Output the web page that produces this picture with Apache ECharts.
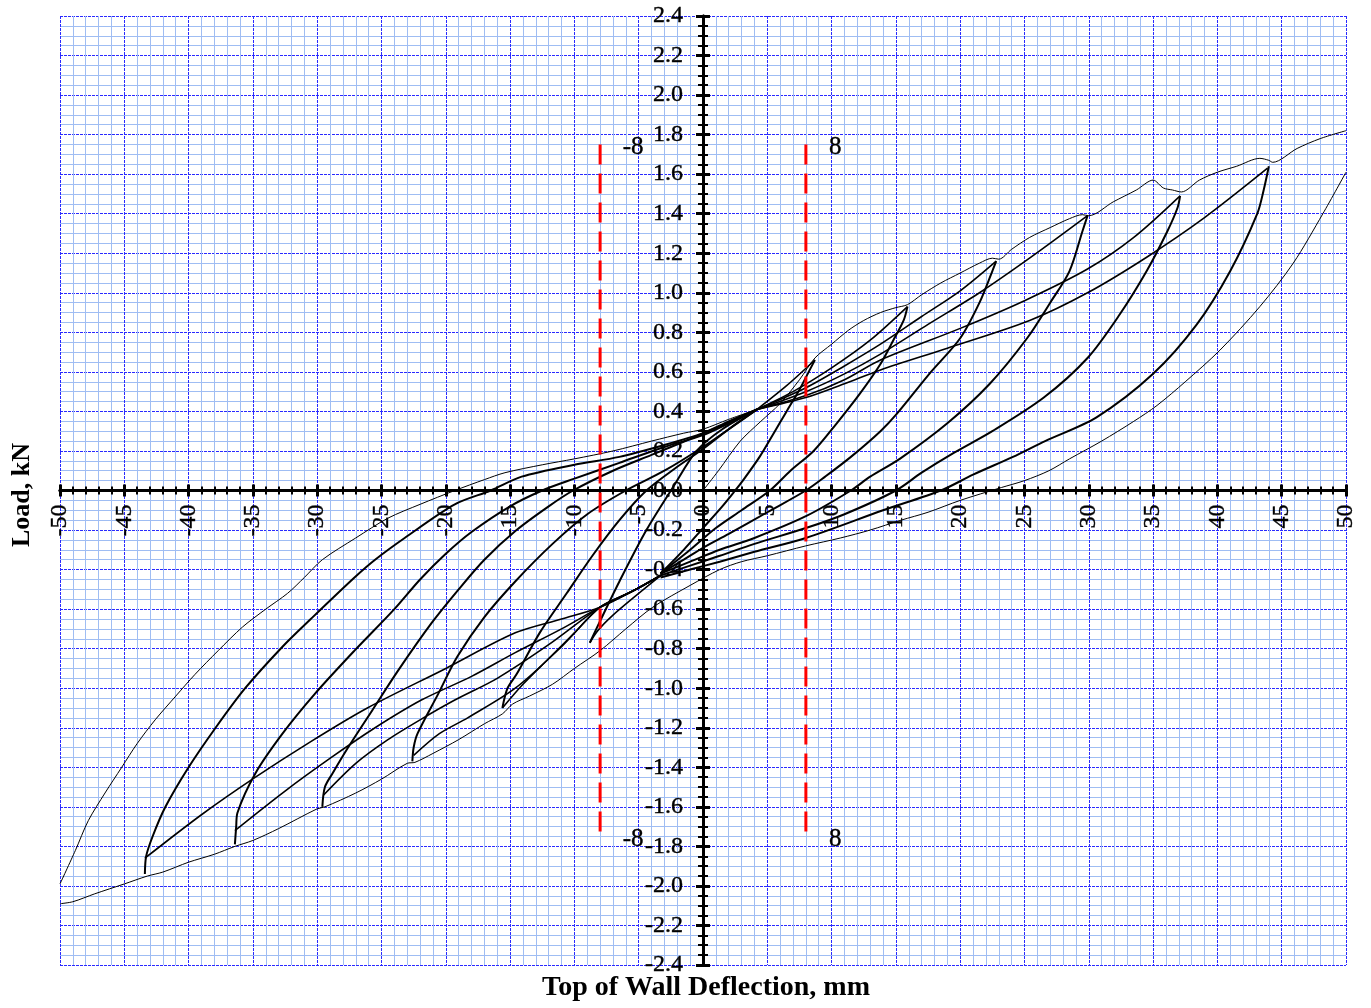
<!DOCTYPE html>
<html>
<head>
<meta charset="utf-8">
<title>Load vs Top of Wall Deflection</title>
<script src="https://cdn.jsdelivr.net/npm/echarts@6/dist/echarts.min.js"></script>
<style>
html,body{margin:0;padding:0;background:#fff;}
#main{width:1371px;height:1008px;}
</style>
</head>
<body>
<div id="main"></div>
<script>
// axis ranges [min, max, step]
var xRange = [-50, 50, 5];
var yRange = [-2.4, 2.4, 0.2];

// tick labels, drawn next to the axis lines that cross at zero
var xTickLabels = [-50, -45, -40, -35, -30, -25, -20, -15, -10, -5, 0, 5, 10, 15, 20, 25, 30, 35, 40, 45, 50];
var yTickLabels = ['-2.4', '-2.2', '-2.0', '-1.8', '-1.6', '-1.4', '-1.2', '-1.0', '-0.8', '-0.6', '-0.4', '-0.2', '0.0',
  '0.2', '0.4', '0.6', '0.8', '1.0', '1.2', '1.4', '1.6', '1.8', '2.0', '2.2', '2.4'];

// red guide lines at +-8 mm and their labels
var guideX = [-8, 8];
var guideY = [1.75, -1.76];
var guideLabels = ['-8', '8', '-8', '8'];
var guideLabelPos = [[-6.25, 1.735], [9.8, 1.735], [-6.25, -1.765], [9.8, -1.765]];

// virgin curve + upper envelope (positive side, single thin line)
var envUpper = [[0,0],[1.2,0.1],[2.9,0.25],[4.5,0.35],[6,0.44],[7.5,0.56],[8.7,0.67],
  [10,0.74],[11.3,0.81],[12.5,0.86],[13.8,0.9],[15,0.925],[15.9,0.94],
  [17,0.99],[18.5,1.05],[20,1.1],[21.5,1.15],[22.5,1.175],[23,1.17],
  [24,1.22],[25.4,1.28],[27,1.33],[28.5,1.375],[29.5,1.395],[30,1.39],
  [31.9,1.46],[33.7,1.52],[35,1.57],[35.8,1.53],[36.5,1.52],[37.2,1.51],
  [38.6,1.57],[40,1.61],[41.5,1.64],[43.3,1.68],[44,1.67],
  [44.3,1.66],[46.2,1.73],[48,1.78],[50,1.82]];

// last unloading from +50 and lower envelope down to -50
var envLower = [[50,1.61],[48.2,1.4],[45.9,1.15],[43.3,0.93],[40.2,0.71],[37.5,0.55],[35.3,0.43],
  [33.5,0.35],[31,0.25],[28.5,0.16],[26.9,0.1],[25,0.05],[23.2,0.015],[20,-0.05],[17.5,-0.11],
  [15.4,-0.15],[13,-0.2],[10.7,-0.24],[8,-0.28],[5,-0.33],[3,-0.36],[1.3,-0.4],[-1,-0.48],
  [-3.9,-0.59],[-6,-0.7],[-8,-0.81],[-10,-0.9],[-11.7,-0.98],[-13.5,-1.04],[-14.8,-1.08],
  [-15.6,-1.13],[-17,-1.18],[-19,-1.26],[-21,-1.33],[-22.4,-1.375],[-23,-1.38],[-25,-1.46],
  [-27,-1.53],[-29.4,-1.6],[-30,-1.61],[-33,-1.71],[-35,-1.77],[-36.4,-1.8],[-38,-1.84],
  [-40,-1.88],[-42,-1.93],[-43.2,-1.95],[-45,-1.99],[-47.3,-2.04],[-49,-2.08],[-50,-2.09]];

// last unloading from -50
var finalLeft = [[-50,-1.99],[-48.8,-1.82],[-47.8,-1.67],[-46.5,-1.53],[-45.2,-1.4],[-44,-1.28],
  [-42.6,-1.16],[-41,-1.04],[-39.5,-0.93],[-37.7,-0.81],[-35.8,-0.69],[-34,-0.6],[-32.3,-0.52],
  [-31,-0.44],[-29.6,-0.35],[-27,-0.24],[-24.5,-0.14],[-22,-0.07],[-19.3,0],[-17,0.055],
  [-15.4,0.09],[-12.5,0.13],[-10,0.16],[-7,0.2],[-4,0.25],[-1.5,0.29],[0,0.31],[2,0.36],[4.2,0.41]];

// unloading from positive peaks
var u8 = [[8.7,0.66],[8.3,0.61],[7.5,0.51],[6.5,0.4],[5.5,0.29],[4.4,0.17],[3.1,0.05],[2.5,0],
  [1.5,-0.08],[0,-0.19],[-1.5,-0.3],[-3.3,-0.42]];
var u16 = [[15.9,0.93],[15.6,0.86],[14.8,0.76],[13.8,0.64],[12.2,0.49],[10.4,0.34],[8.6,0.2],
  [6.8,0.1],[5.2,0],[3,-0.1],[1,-0.19],[-1,-0.3],[-3.3,-0.42]];
var u22 = [[22.8,1.16],[22.5,1.11],[21.5,0.95],[20,0.77],[17.6,0.59],[15.1,0.39],[13.8,0.3],
  [11.5,0.17],[9.5,0.07],[8,0],[5,-0.11],[2,-0.22],[0,-0.29],[-1.5,-0.35],[-3.3,-0.42]];
var u30 = [[29.9,1.39],[29.5,1.31],[28.5,1.11],[27,0.95],[25.2,0.77],[22.3,0.54],[19,0.34],
  [15.3,0.16],[13,0.07],[11.5,0],[8,-0.13],[4,-0.24],[1.3,-0.3],[-1,-0.36],[-3.3,-0.42]];
var u37 = [[37.1,1.49],[36.9,1.43],[36.1,1.31],[34.5,1.11],[32.4,0.89],[29.9,0.67],[26.5,0.47],
  [22.5,0.3],[19.5,0.19],[17,0.09],[15,0],[11,-0.12],[8,-0.19],[4,-0.27],[1.3,-0.33],[-1,-0.38],[-3.3,-0.43]];
var u44 = [[44,1.64],[43.6,1.52],[43.1,1.4],[41,1.11],[38.4,0.84],[35,0.59],[30.6,0.37],
  [26.6,0.25],[24.1,0.17],[21,0.08],[18.5,0],[14,-0.1],[8,-0.24],[4,-0.31],[1.3,-0.36],[-1,-0.4],[-3.3,-0.44]];

// reloading towards negative peaks
var rn8 = [[-3.3,-0.43],[-5,-0.52],[-7,-0.63],[-8.2,-0.71],[-8.8,-0.77]];
var rn15 = [[-3.3,-0.43],[-5.5,-0.51],[-8,-0.59],[-10,-0.72],[-12,-0.85],[-14,-0.98],[-15.6,-1.1]];
var rn22 = [[-3.3,-0.43],[-5.5,-0.51],[-8,-0.59],[-11,-0.79],[-14.6,-1],[-18.3,-1.15],[-20.5,-1.23],[-22.5,-1.34]];
var rn30 = [[-3.3,-0.43],[-5.5,-0.51],[-8,-0.59],[-12,-0.78],[-16,-0.95],[-19.3,-1.06],[-22,-1.16],
  [-24.5,-1.26],[-27,-1.38],[-29.5,-1.54]];
var rn36 = [[-3.3,-0.43],[-5.5,-0.51],[-8,-0.59],[-11,-0.7],[-14.6,-0.82],[-18,-0.94],[-21.9,-1.06],
  [-25.5,-1.2],[-28.9,-1.35],[-32.5,-1.52],[-36.4,-1.72]];
var rn43 = [[-3.3,-0.43],[-5.5,-0.51],[-8,-0.59],[-11,-0.65],[-14.6,-0.72],[-20,-0.9],[-26.1,-1.1],
  [-30.5,-1.27],[-34.8,-1.45],[-39,-1.64],[-43.4,-1.86]];

// unloading from negative peaks
var vn8 = [[-8.8,-0.77],[-8,-0.66],[-6.5,-0.46],[-4.4,-0.2],[-2.3,0.02],[-0.5,0.2],[1.5,0.31],[4.2,0.41]];
var vn15 = [[-15.6,-1.1],[-15.2,-1],[-14.5,-0.93],[-12.7,-0.72],[-10.6,-0.52],[-8.6,-0.33],[-6.5,-0.15],
  [-4.4,0],[-2,0.12],[0,0.21],[2,0.31],[4.2,0.41]];
var vn22 = [[-22.6,-1.37],[-22.5,-1.3],[-22.2,-1.23],[-20.6,-1.03],[-19.1,-0.84],[-17,-0.64],[-14.6,-0.46],
  [-11.7,-0.27],[-9,-0.12],[-6,0],[-3,0.1],[0,0.22],[2,0.31],[4.2,0.41]];
var vn30 = [[-29.6,-1.6],[-29.4,-1.5],[-28.8,-1.43],[-27.6,-1.3],[-25.7,-1.11],[-23.7,-0.91],[-21.1,-0.67],
  [-19,-0.5],[-17,-0.35],[-14.5,-0.2],[-12,-0.08],[-10.1,0],[-7,0.1],[-4,0.18],[-1,0.26],[1.5,0.33],[4.2,0.41]];
var vn36 = [[-36.4,-1.79],[-36.3,-1.7],[-36.2,-1.63],[-34.8,-1.43],[-32.7,-1.23],[-30.2,-1.03],[-27.1,-0.81],
  [-24,-0.6],[-22,-0.45],[-20,-0.32],[-18,-0.21],[-15,-0.08],[-12.5,0],[-10,0.06],[-6.5,0.14],[-3,0.22],
  [0,0.28],[2,0.34],[4.2,0.41]];
var vn43 = [[-43.4,-1.94],[-43.3,-1.85],[-42.8,-1.75],[-41.8,-1.6],[-40,-1.4],[-37.9,-1.2],[-35.6,-1],
  [-32.7,-0.79],[-30.5,-0.65],[-27.1,-0.44],[-25.5,-0.35],[-23.2,-0.24],[-19.3,-0.07],[-16.5,0],
  [-14.1,0.07],[-10,0.13],[-6.5,0.17],[-3,0.23],[0,0.29],[2,0.35],[4.2,0.41]];

// reloading towards positive peaks
var rp8 = [[4.2,0.41],[6.5,0.53],[8.7,0.66]];
var rp16 = [[4.2,0.41],[7,0.5],[10,0.62],[13,0.76],[15.9,0.93]];
var rp22 = [[4.2,0.41],[8,0.52],[11,0.63],[13.8,0.74],[17,0.88],[20,1.01],[22.8,1.16]];
var rp30 = [[4.2,0.41],[8,0.5],[11,0.59],[13.8,0.69],[17.5,0.84],[21.5,1],[25.5,1.18],[29.9,1.39]];
var rp37 = [[4.2,0.41],[8,0.48],[11,0.56],[13.8,0.66],[20,0.82],[25,0.96],[29.9,1.12],[33.5,1.28],[37.1,1.49]];
var rp44 = [[4.2,0.41],[8,0.47],[11,0.54],[13.8,0.61],[19,0.72],[25.4,0.86],[29.9,1],[34.5,1.18],[39,1.38],[43.9,1.63]];

var thinCurves = [envUpper, envLower, finalLeft];
var unloadCurves = [u8, u16, u22, u30, u37, u44, vn8, vn15, vn22, vn30, vn36, vn43];
var reloadCurves = [rn8, rn15, rn22, rn30, rn36, rn43, rp8, rp16, rp22, rp30, rp37, rp44];

var serifFont = '"Liberation Serif", "Times New Roman", serif';

function curveSeries(data, width) {
	return {
		type: 'line',
		data: data,
		showSymbol: false,
		smooth: 0.3,
		silent: true,
		z: 3,
		lineStyle: { color: '#000', width: width }
	};
}

// a scatter series with no symbols, used only to place text in data coordinates
function textSeries(data, label, z) {
	label.color = '#000';
	label.opacity = 1;
	label.fontFamily = serifFont;
	label.textBorderColor = '#000';
	label.textBorderWidth = 0.4;
	return {
		type: 'scatter',
		symbolSize: 0,
		silent: true,
		z: z,
		itemStyle: { opacity: 1 },
		data: data,
		label: label
	};
}

var series = [];
thinCurves.forEach(function (c) { series.push(curveSeries(c, 1)); });
unloadCurves.forEach(function (c) { series.push(curveSeries(c, 2)); });
reloadCurves.forEach(function (c) { series.push(curveSeries(c, 1.6)); });

// red dashed guide lines
guideX.forEach(function (gx) {
	series.push({
		type: 'line',
		data: [[gx, guideY[0]], [gx, guideY[1]]],
		showSymbol: false,
		silent: true,
		z: 5,
		lineStyle: { color: '#ff0000', width: 3, type: [20, 9] }
	});
});

// guide labels
series.push(textSeries(
	guideLabelPos.map(function (p, i) { return { name: guideLabels[i], value: p }; }),
	{ show: true, formatter: '{b}', position: [0, 0], align: 'left', verticalAlign: 'middle', fontSize: 25 }, 6));

// x tick labels, rotated, hanging under the zero line
series.push(textSeries(
	xTickLabels.map(function (v) { return { name: String(v), value: [v, 0] }; }),
	{ show: true, formatter: '{b}', position: [0, 14], rotate: 90, align: 'right', verticalAlign: 'middle', fontSize: 24 }, 4));

// y tick labels, left of the zero line
series.push(textSeries(
	yTickLabels.map(function (s) { return { name: s, value: [0, parseFloat(s)] }; }),
	{ show: true, formatter: '{b}', position: [-20, 0], align: 'right', verticalAlign: 'middle', fontSize: 24 }, 4));

var majorGrid = { show: true, lineStyle: { color: '#2a2aff', width: 1, type: [3, 1] } };
var minorGrid = { show: true, lineStyle: { color: '#9fbdf3', width: 1, type: 'solid' } };
var axisLineStyle = { show: true, onZero: true, onZeroAxisIndex: 0, lineStyle: { color: '#000', width: 3 } };

var option = {
	animation: false,
	backgroundColor: '#fff',
	grid: { left: 60, right: 25, top: 16, bottom: 43, containLabel: false, outerBoundsMode: 'none' },
	xAxis: [{
		type: 'value', min: xRange[0], max: xRange[1], interval: xRange[2],
		axisLine: axisLineStyle,
		axisTick: { show: true, length: 6, lineStyle: { color: '#000', width: 3 } },
		minorTick: { show: true, splitNumber: 5, length: 4, lineStyle: { color: '#000', width: 2 } },
		axisLabel: { show: false },
		splitLine: majorGrid,
		minorSplitLine: minorGrid
	}, {
		// second x axis only for the ticks above the axis line
		type: 'value', position: 'top', min: xRange[0], max: xRange[1], interval: xRange[2],
		axisLine: axisLineStyle,
		axisTick: { show: true, length: 6, lineStyle: { color: '#000', width: 3 } },
		minorTick: { show: true, splitNumber: 5, length: 4, lineStyle: { color: '#000', width: 2 } },
		axisLabel: { show: false },
		splitLine: { show: false }
	}],
	yAxis: [{
		type: 'value', min: yRange[0], max: yRange[1], interval: yRange[2],
		axisLine: axisLineStyle,
		axisTick: { show: true, length: 7, lineStyle: { color: '#000', width: 3 } },
		minorTick: { show: true, splitNumber: 4, length: 5, lineStyle: { color: '#000', width: 2 } },
		axisLabel: { show: false },
		splitLine: majorGrid,
		minorSplitLine: minorGrid
	}, {
		type: 'value', position: 'right', min: yRange[0], max: yRange[1], interval: yRange[2],
		axisLine: axisLineStyle,
		axisTick: { show: true, length: 7, lineStyle: { color: '#000', width: 3 } },
		minorTick: { show: true, splitNumber: 4, length: 5, lineStyle: { color: '#000', width: 2 } },
		axisLabel: { show: false },
		splitLine: { show: false }
	}],
	graphic: [{
		type: 'text', x: 22, y: 495, rotation: Math.PI / 2,
		style: { text: 'Load, kN', fill: '#000', font: 'bold 26px ' + serifFont, textAlign: 'center', textVerticalAlign: 'middle' }
	}, {
		type: 'text', x: 706, y: 988,
		style: { text: 'Top of Wall Deflection, mm', fill: '#000', font: 'bold 28px ' + serifFont, textAlign: 'center', textVerticalAlign: 'middle' }
	}],
	series: series
};

var myChart = echarts.init(document.getElementById('main'));
myChart.setOption(option);
</script>
</body>
</html>
